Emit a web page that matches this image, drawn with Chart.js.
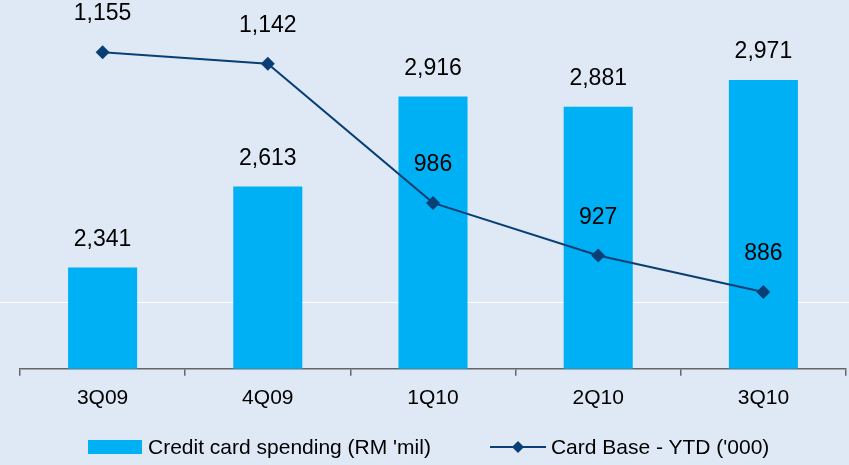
<!DOCTYPE html>
<html lang="en">
<head>
    <meta charset="UTF-8">
    <title>Credit card spending vs card base</title>
    <script src="https://cdn.jsdelivr.net/npm/chart.js"></script>
    <style>
        body {
            margin: 0;
            background: #dee9f5;
            font-family: "Liberation Sans", Arial, sans-serif;
        }
        #wrap {
            position: relative;
            width: 849px;
            height: 465px;
            background: #dee9f5;
            overflow: hidden;
        }
        #legend {
            position: absolute;
            top: 435px;
            left: 88px;
            display: flex;
            align-items: center;
            font-size: 21px;
            color: #000;
            white-space: nowrap;
        }
        .swatch {
            width: 54px;
            height: 14px;
            background: #00b0f5;
            margin-right: 6px;
        }
        .item2 {
            margin-left: 59px;
            display: flex;
            align-items: center;
        }
        .item2 svg { margin-right: 5px; }
    </style>
</head>
<body>
<div id="wrap">
    <canvas id="chart" width="849" height="465"></canvas>
    <div id="legend">
        <div class="swatch"></div><span>Credit card spending (RM 'mil)</span>
        <div class="item2">
            <svg width="56" height="16" viewBox="0 0 56 16">
                <line x1="0" y1="8" x2="56" y2="8" stroke="#0a3f75" stroke-width="2"/>
                <polygon points="28,2 34,8 28,14 22,8" fill="#0a3f75"/>
            </svg>
            <span>Card Base - YTD ('000)</span>
        </div>
    </div>
</div>

<script>
    const quarters = ['3Q09', '4Q09', '1Q10', '2Q10', '3Q10'];
    const spending = [2341, 2613, 2916, 2881, 2971];   // RM 'mil
    const cardBase = [1155, 1142, 986, 927, 886];       // '000

    const fmt = v => v.toLocaleString('en-US');

    // linea blanca de fondo (gridline suelta del original)
    const whiteLine = {
        id: 'whiteLine',
        beforeDatasetsDraw(chart) {
            const ctx = chart.ctx;
            const y = chart.scales.y1.getPixelForValue(875);
            ctx.save();
            ctx.strokeStyle = '#ffffff';
            ctx.lineWidth = 1;
            ctx.beginPath();
            ctx.moveTo(0, Math.round(y) + 0.5);
            ctx.lineTo(chart.width, Math.round(y) + 0.5);
            ctx.stroke();
            ctx.restore();
        }
    };

    // etiquetas de valores
    const valueLabels = {
        id: 'valueLabels',
        afterDatasetsDraw(chart) {
            const ctx = chart.ctx;
            ctx.save();
            ctx.font = '23px "Liberation Sans", Arial, sans-serif';
            ctx.fillStyle = '#000';
            ctx.textAlign = 'center';
            ctx.textBaseline = 'middle';
            chart.getDatasetMeta(1).data.forEach((bar, i) => {
                ctx.fillText(fmt(spending[i]), bar.x, bar.y - 28);
            });
            chart.getDatasetMeta(0).data.forEach((pt, i) => {
                ctx.fillText(fmt(cardBase[i]), pt.x, pt.y - 38);
            });
            ctx.restore();
        }
    };

    new Chart(document.getElementById('chart'), {
        type: 'bar',
        data: {
            labels: quarters,
            datasets: [
                {
                    type: 'line',
                    label: "Card Base - YTD ('000)",
                    data: cardBase,
                    yAxisID: 'y1',
                    borderColor: '#0a3f75',
                    backgroundColor: '#0a3f75',
                    borderWidth: 2,
                    pointStyle: 'rectRot',
                    pointRadius: 7,
                    pointBorderWidth: 0,
                    tension: 0,
                    order: 0
                },
                {
                    label: "Credit card spending (RM 'mil)",
                    data: spending,
                    yAxisID: 'y',
                    backgroundColor: '#00b0f5',
                    borderWidth: 0,
                    barPercentage: 0.418,
                    categoryPercentage: 1,
                    order: 1
                }
            ]
        },
        options: {
            responsive: false,
            animation: false,
            layout: {
                autoPadding: false,
                padding: { left: 20, right: 3, top: 12, bottom: 44 }
            },
            plugins: {
                legend: { display: false },
                tooltip: { enabled: false }
            },
            scales: {
                x: {
                    offset: true,
                    grid: {
                        offset: true,
                        drawOnChartArea: false,
                        tickLength: 7,
                        color: '#666',
                        lineWidth: 1.5
                    },
                    border: { display: true, color: '#666', width: 1.5 },
                    ticks: {
                        padding: 10,
                        color: '#000',
                        font: { family: '"Liberation Sans", Arial, sans-serif', size: 21 }
                    }
                },
                y: { display: false, min: 2000, max: 3200 },
                y1: { display: false, min: 800, max: 1200 }
            }
        },
        plugins: [whiteLine, valueLabels]
    });
</script>
</body>
</html>
